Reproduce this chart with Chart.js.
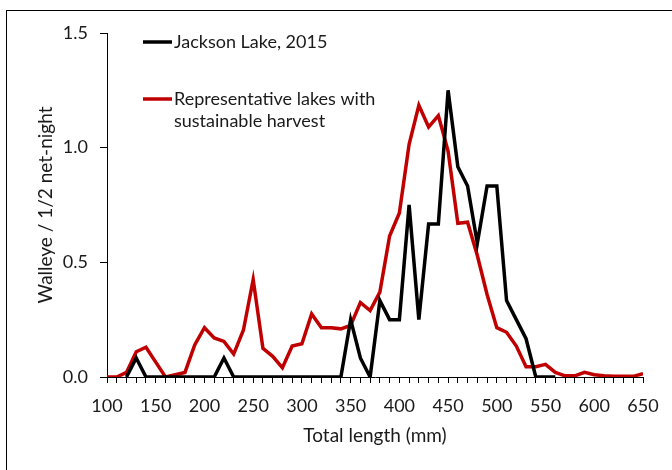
<!DOCTYPE html>
<html>
<head>
<meta charset="utf-8">
<script src="https://cdn.jsdelivr.net/npm/chart.js@4/dist/chart.umd.min.js"></script>
<style>
  html, body { margin: 0; padding: 0; background: #fff; overflow: hidden; }
  #frame { position: absolute; left: 6px; top: 10px; width: 700px; height: 500px; border: 1px solid #000; }
  #wrap { position: absolute; left: 0; top: 0; width: 672px; height: 470px; }
</style>
</head>
<body>
<div id="frame"></div>
<div id="wrap"><canvas id="chart"></canvas></div>
<script>
const lengths = [100, 110, 120, 130, 140, 150, 160, 170, 180, 190,
    200, 210, 220, 230, 240, 250, 260, 270, 280, 290,
    300, 310, 320, 330, 340, 350, 360, 370, 380, 390,
    400, 410, 420, 430, 440, 450, 460, 470, 480, 490,
    500, 510, 520, 530, 540, 550, 560, 570, 580, 590,
    600, 610, 620, 630, 640, 650];

const jackson = [null, null, 0, 0.083, 0, 0, 0, 0, 0, 0,
    0, 0, 0.083, 0, 0, 0, 0, 0, 0, 0,
    0, 0, 0, 0, 0, 0.25, 0.083, 0, 0.333, 0.25,
    0.25, 0.75, 0.25, 0.667, 0.667, 1.25, 0.917, 0.833, 0.583, 0.833,
    0.833, 0.333, 0.25, 0.167, 0, 0, 0, null, null, null,
    null, null, null, null, null, null];

const representative = [0, 0, 0.02, 0.11, 0.13, 0.065, 0, 0.01, 0.02, 0.14,
    0.215, 0.17, 0.155, 0.1, 0.205, 0.425, 0.125, 0.09, 0.04, 0.135,
    0.145, 0.275, 0.215, 0.215, 0.21, 0.225, 0.325, 0.29, 0.37, 0.615,
    0.715, 1.015, 1.185, 1.09, 1.14, 0.985, 0.67, 0.675, 0.53, 0.36,
    0.215, 0.195, 0.135, 0.045, 0.045, 0.055, 0.02, 0.005, 0.005, 0.02,
    0.01, 0.005, 0.003, 0.003, 0.003, 0.015];

const seriesNames = ['Jackson Lake, 2015', ['Representative lakes with', 'sustainable harvest']];
const seriesColors = ['#000000', '#c00000'];

const fontFamily = "Lato, 'Open Sans', sans-serif";
const textColor = '#1a1a1a';

function toPoints(values) {
    return lengths.map((x, i) => ({ x, y: values[i] }));
}

// legend drawn inside the plot, like the original
const insideLegend = {
    id: 'insideLegend',
    afterDraw(chart) {
        const ctx = chart.ctx;
        const rows = [
            { y: 42, color: seriesColors[0], lines: [seriesNames[0]] },
            { y: 99, color: seriesColors[1], lines: seriesNames[1] },
        ];
        ctx.save();
        ctx.font = '18px ' + fontFamily;
        ctx.textBaseline = 'middle';
        ctx.fillStyle = textColor;
        rows.forEach((r) => {
            ctx.strokeStyle = r.color;
            ctx.lineWidth = 3.5;
            ctx.beginPath();
            ctx.moveTo(143, r.y);
            ctx.lineTo(172, r.y);
            ctx.stroke();
            r.lines.forEach((t, i) => ctx.fillText(t, 174, r.y + i * 22.5));
        });
        ctx.restore();
    },
};

new Chart(document.getElementById('chart'), {
    type: 'line',
    data: {
        datasets: [
            {
                label: 'Jackson Lake, 2015',
                data: toPoints(jackson),
                borderColor: seriesColors[0],
                borderWidth: 3.5,
                pointRadius: 0,
                tension: 0,
                spanGaps: false,
            },
            {
                label: 'Representative lakes with sustainable harvest',
                data: toPoints(representative),
                borderColor: seriesColors[1],
                borderWidth: 3.5,
                pointRadius: 0,
                tension: 0,
            },
        ],
    },
    options: {
        responsive: true,
        maintainAspectRatio: false,
        animation: false,
        layout: { padding: { left: 30, top: 33, right: 29, bottom: 0 } },
        plugins: {
            legend: { display: false },
            tooltip: { enabled: false },
        },
        scales: {
            x: {
                type: 'linear',
                min: 100,
                max: 650,
                afterFit: (s) => { s.height = 93; },
                border: { display: true, color: '#000', width: 1 },
                grid: { drawOnChartArea: false, drawTicks: true, tickLength: 6, color: '#000' },
                ticks: {
                    stepSize: 10,
                    autoSkip: false,
                    maxRotation: 0,
                    padding: 12,
                    color: textColor,
                    font: { family: fontFamily, size: 18 },
                    callback: (v) => (v % 50 === 0 ? String(v) : ''),
                },
                title: {
                    display: true,
                    text: 'Total length (mm)',
                    color: textColor,
                    font: { family: fontFamily, size: 19 },
                    padding: { top: 0, bottom: 23 },
                },
            },
            y: {
                min: 0,
                max: 1.5,
                afterFit: (s) => { s.width = 77; },
                border: { display: true, color: '#000', width: 1 },
                grid: { drawOnChartArea: false, drawTicks: true, tickLength: 7, color: '#000' },
                ticks: {
                    stepSize: 0.5,
                    padding: 12,
                    color: textColor,
                    font: { family: fontFamily, size: 18 },
                    callback: (v) => v.toFixed(1),
                },
                title: {
                    display: true,
                    text: 'Walleye / 1/2 net-night',
                    color: textColor,
                    font: { family: fontFamily, size: 19 },
                    padding: { top: 4, bottom: 0 },
                },
            },
        },
    },
    plugins: [insideLegend],
});
</script>
</body>
</html>
